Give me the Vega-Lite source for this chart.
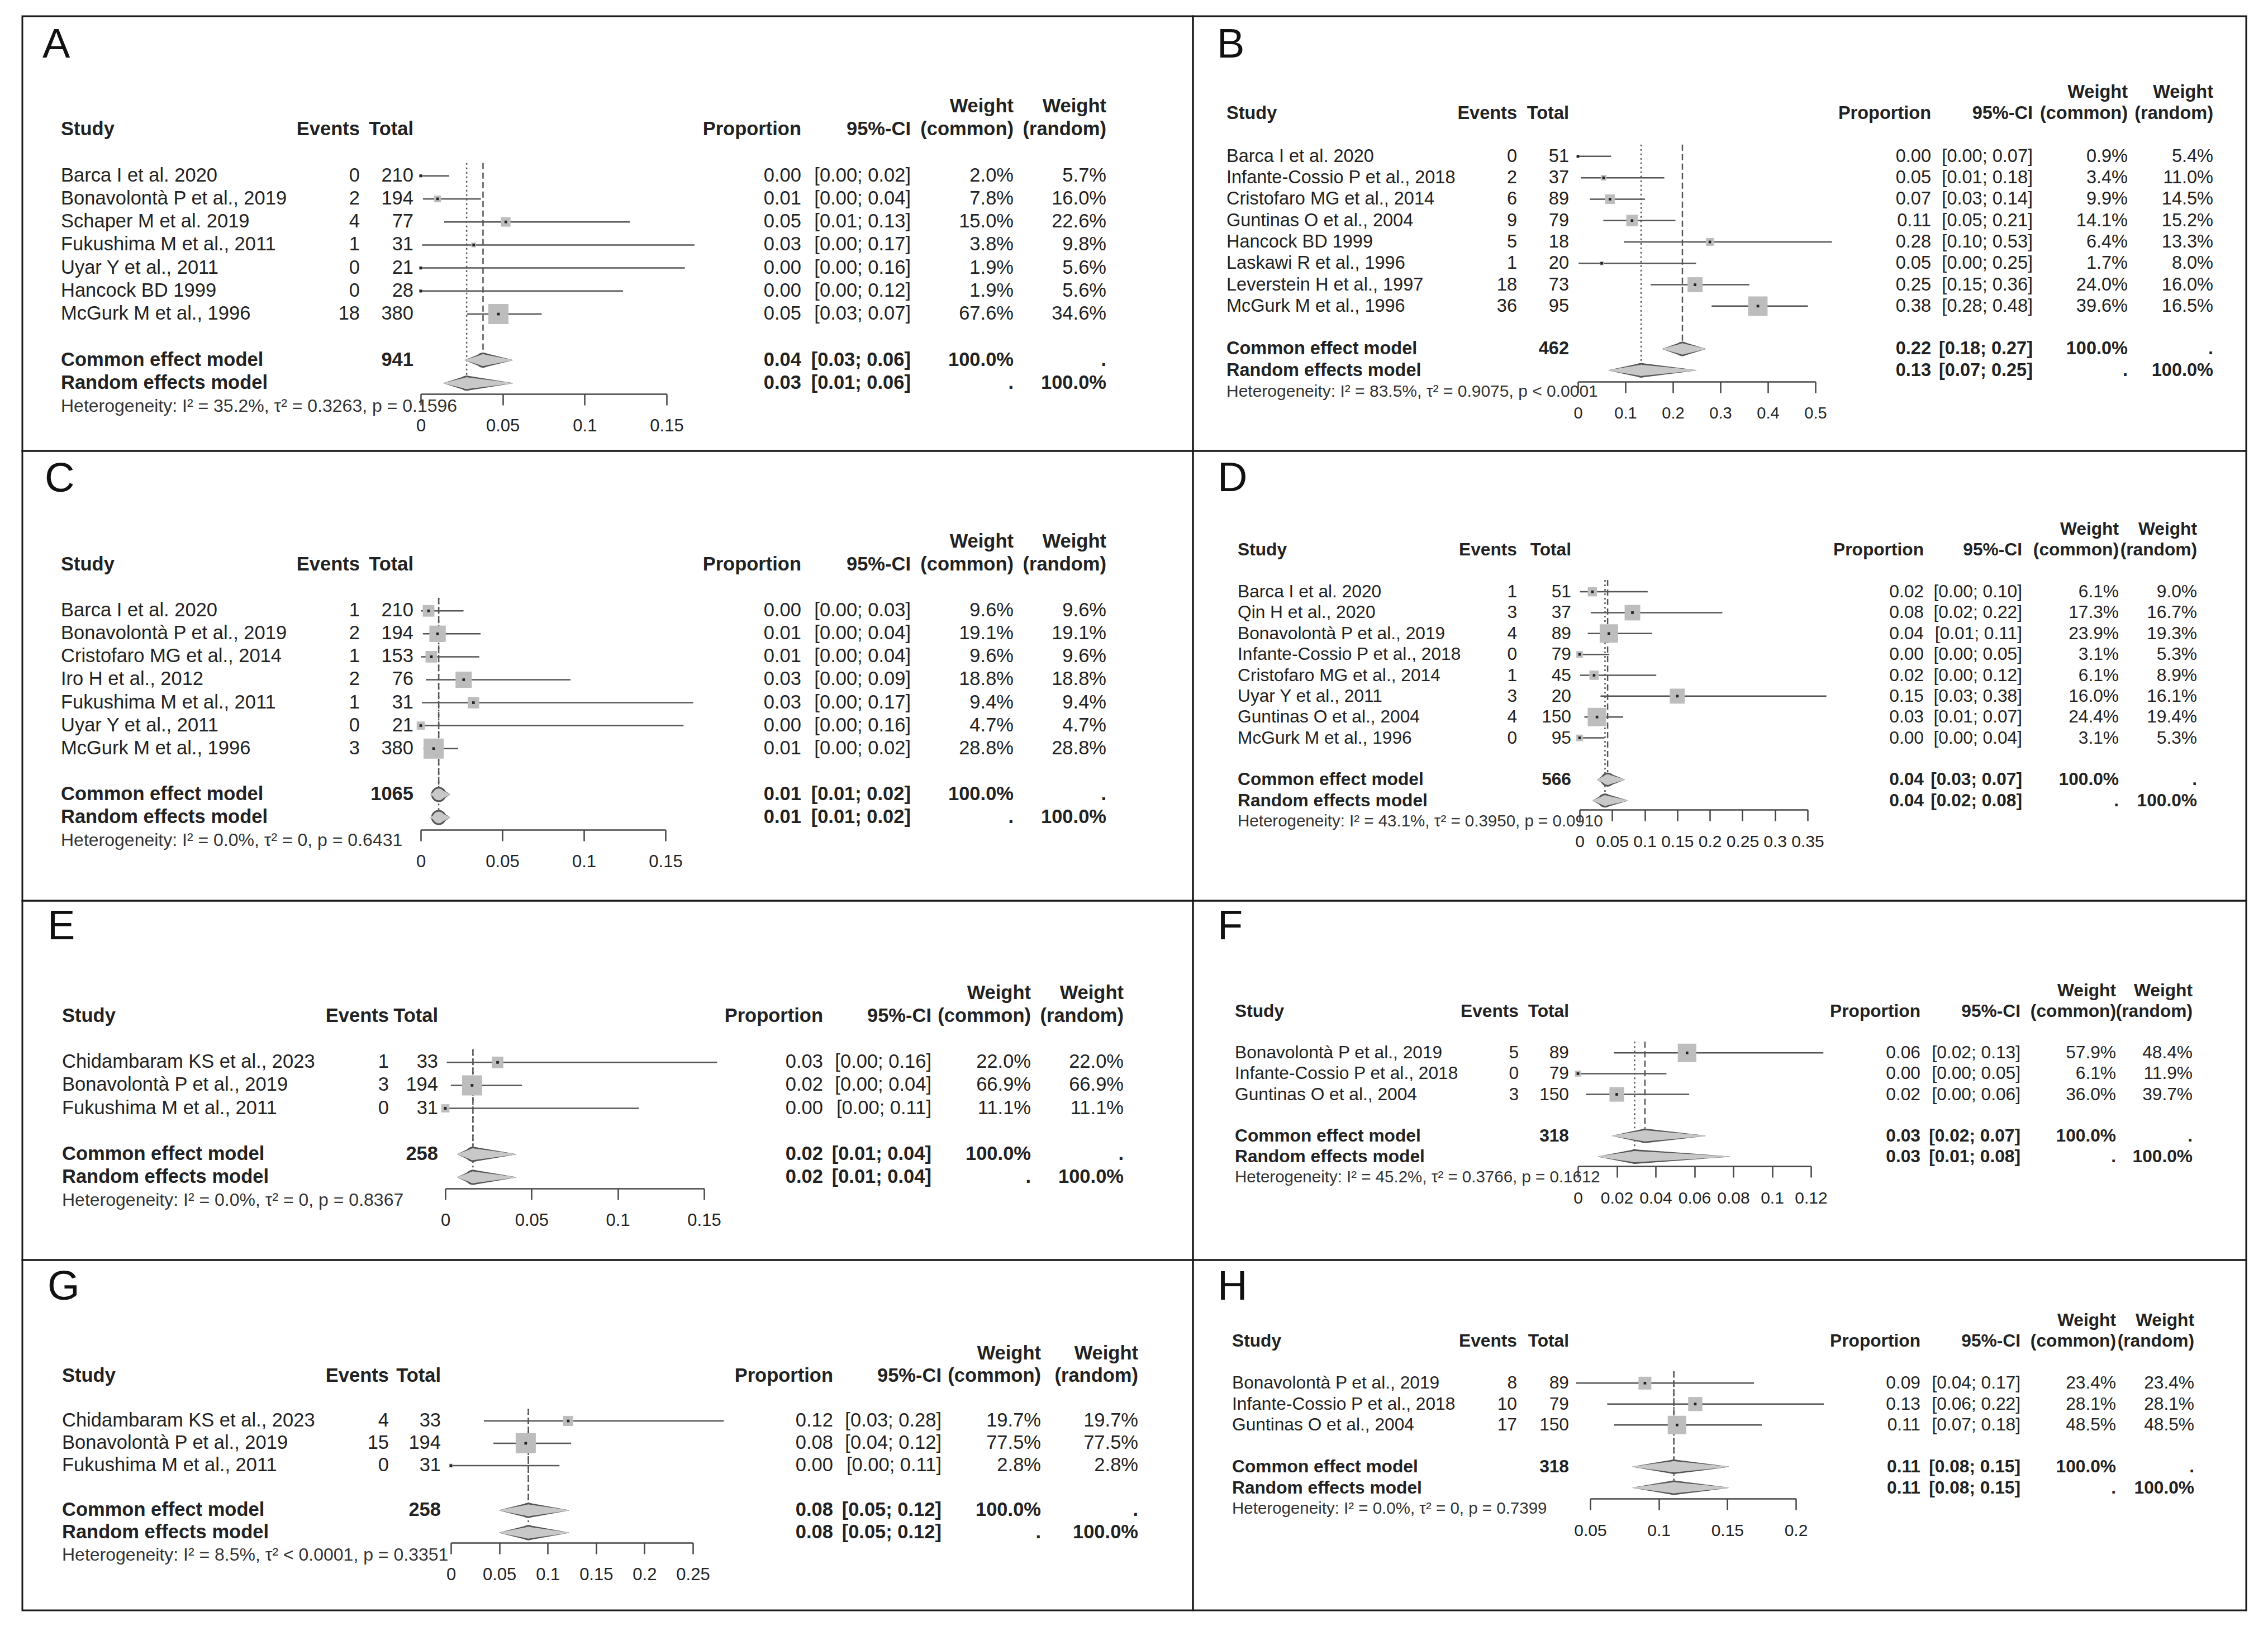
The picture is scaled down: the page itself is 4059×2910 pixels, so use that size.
{
"$schema": "https://vega.github.io/schema/vega-lite/v6.json",
"background": "white",
"padding": {"left": 38, "top": 27, "right": 0, "bottom": 0},
"columns": 2,
"spacing": 0,
"bounds": "flush",
"resolve": {"scale": {"x": "independent", "y": "independent", "size": "independent"}},
"config": {
 "font": "Liberation Sans",
 "view": {"stroke": "#1a1a1a", "strokeWidth": 3},
 "text": {"fontSize": 34.5, "baseline": "middle", "align": "right", "color": "#222"},
 "axisX": {"labelFontSize": 31, "labelColor": "#222", "tickSize": 20, "tickWidth": 2.5, "tickColor": "#444", "domainWidth": 2.5, "domainColor": "#444", "labelPadding": 22, "grid": false, "format": "~g", "labelOverlap": false, "labelFlush": false}
},
"datasets": {"rows": [
{"p":"A","t":"s","study":"Barca I et al. 2020","ev":0,"n":210,"prop":0,"lo":0,"hi":0.0174,"ci":"[0.00; 0.02]","wc":0.020,"wr":0.057},
{"p":"A","t":"s","study":"Bonavolontà P et al., 2019","ev":2,"n":194,"prop":0.0103,"lo":0.0013,"hi":0.0367,"ci":"[0.00; 0.04]","wc":0.078,"wr":0.160},
{"p":"A","t":"s","study":"Schaper M et al. 2019","ev":4,"n":77,"prop":0.0519,"lo":0.0143,"hi":0.1277,"ci":"[0.01; 0.13]","wc":0.150,"wr":0.226},
{"p":"A","t":"s","study":"Fukushima M et al., 2011","ev":1,"n":31,"prop":0.0323,"lo":0.0008,"hi":0.1670,"ci":"[0.00; 0.17]","wc":0.038,"wr":0.098},
{"p":"A","t":"s","study":"Uyar Y et al., 2011","ev":0,"n":21,"prop":0,"lo":0,"hi":0.1611,"ci":"[0.00; 0.16]","wc":0.019,"wr":0.056},
{"p":"A","t":"s","study":"Hancock BD 1999","ev":0,"n":28,"prop":0,"lo":0,"hi":0.1234,"ci":"[0.00; 0.12]","wc":0.019,"wr":0.056},
{"p":"A","t":"s","study":"McGurk M et al., 1996","ev":18,"n":380,"prop":0.0474,"lo":0.0283,"hi":0.0738,"ci":"[0.03; 0.07]","wc":0.676,"wr":0.346},
{"p":"A","t":"c","study":"Common effect model","n":941,"prop":0.038,"lo":0.027,"hi":0.056,"ci":"[0.03; 0.06]","wc":1,"wr":null},
{"p":"A","t":"r","study":"Random effects model","prop":0.028,"lo":0.014,"hi":0.056,"ci":"[0.01; 0.06]","wc":null,"wr":1,"het":"Heterogeneity: I² = 35.2%, τ² = 0.3263, p = 0.1596"},

{"p":"B","t":"s","study":"Barca I et al. 2020","ev":0,"n":51,"prop":0,"lo":0,"hi":0.0698,"ci":"[0.00; 0.07]","wc":0.009,"wr":0.054},
{"p":"B","t":"s","study":"Infante-Cossio P et al., 2018","ev":2,"n":37,"prop":0.0541,"lo":0.0066,"hi":0.1819,"ci":"[0.01; 0.18]","wc":0.034,"wr":0.110},
{"p":"B","t":"s","study":"Cristofaro MG et al., 2014","ev":6,"n":89,"prop":0.0674,"lo":0.0251,"hi":0.1411,"ci":"[0.03; 0.14]","wc":0.099,"wr":0.145},
{"p":"B","t":"s","study":"Guntinas O et al., 2004","ev":9,"n":79,"prop":0.1139,"lo":0.0534,"hi":0.2052,"ci":"[0.05; 0.21]","wc":0.141,"wr":0.152},
{"p":"B","t":"s","study":"Hancock BD 1999","ev":5,"n":18,"prop":0.2778,"lo":0.0969,"hi":0.5348,"ci":"[0.10; 0.53]","wc":0.064,"wr":0.133},
{"p":"B","t":"s","study":"Laskawi R et al., 1996","ev":1,"n":20,"prop":0.05,"lo":0.0013,"hi":0.2487,"ci":"[0.00; 0.25]","wc":0.017,"wr":0.080},
{"p":"B","t":"s","study":"Leverstein H et al., 1997","ev":18,"n":73,"prop":0.2466,"lo":0.1530,"hi":0.3609,"ci":"[0.15; 0.36]","wc":0.240,"wr":0.160},
{"p":"B","t":"s","study":"McGurk M et al., 1996","ev":36,"n":95,"prop":0.3789,"lo":0.2815,"hi":0.4843,"ci":"[0.28; 0.48]","wc":0.396,"wr":0.165},
{"p":"B","t":"c","study":"Common effect model","n":462,"prop":0.220,"lo":0.178,"hi":0.269,"ci":"[0.18; 0.27]","wc":1,"wr":null},
{"p":"B","t":"r","study":"Random effects model","prop":0.133,"lo":0.065,"hi":0.249,"ci":"[0.07; 0.25]","wc":null,"wr":1,"het":"Heterogeneity: I² = 83.5%, τ² = 0.9075, p < 0.0001"},

{"p":"C","t":"s","study":"Barca I et al. 2020","ev":1,"n":210,"prop":0.0048,"lo":0.0001,"hi":0.0262,"ci":"[0.00; 0.03]","wc":0.096,"wr":0.096},
{"p":"C","t":"s","study":"Bonavolontà P et al., 2019","ev":2,"n":194,"prop":0.0103,"lo":0.0013,"hi":0.0367,"ci":"[0.00; 0.04]","wc":0.191,"wr":0.191},
{"p":"C","t":"s","study":"Cristofaro MG et al., 2014","ev":1,"n":153,"prop":0.0065,"lo":0.0002,"hi":0.0359,"ci":"[0.00; 0.04]","wc":0.096,"wr":0.096},
{"p":"C","t":"s","study":"Iro H et al., 2012","ev":2,"n":76,"prop":0.0263,"lo":0.0032,"hi":0.0918,"ci":"[0.00; 0.09]","wc":0.188,"wr":0.188},
{"p":"C","t":"s","study":"Fukushima M et al., 2011","ev":1,"n":31,"prop":0.0323,"lo":0.0008,"hi":0.1670,"ci":"[0.00; 0.17]","wc":0.094,"wr":0.094},
{"p":"C","t":"s","study":"Uyar Y et al., 2011","ev":0,"n":21,"prop":0,"lo":0,"hi":0.1611,"ci":"[0.00; 0.16]","wc":0.047,"wr":0.047},
{"p":"C","t":"s","study":"McGurk M et al., 1996","ev":3,"n":380,"prop":0.0079,"lo":0.0016,"hi":0.0229,"ci":"[0.00; 0.02]","wc":0.288,"wr":0.288},
{"p":"C","t":"c","study":"Common effect model","n":1065,"prop":0.011,"lo":0.006,"hi":0.018,"ci":"[0.01; 0.02]","wc":1,"wr":null},
{"p":"C","t":"r","study":"Random effects model","prop":0.011,"lo":0.006,"hi":0.018,"ci":"[0.01; 0.02]","wc":null,"wr":1,"het":"Heterogeneity: I² = 0.0%, τ² = 0, p = 0.6431"},

{"p":"D","t":"s","study":"Barca I et al. 2020","ev":1,"n":51,"prop":0.0196,"lo":0.0005,"hi":0.1045,"ci":"[0.00; 0.10]","wc":0.061,"wr":0.090},
{"p":"D","t":"s","study":"Qin H et al., 2020","ev":3,"n":37,"prop":0.0811,"lo":0.0170,"hi":0.2191,"ci":"[0.02; 0.22]","wc":0.173,"wr":0.167},
{"p":"D","t":"s","study":"Bonavolontà P et al., 2019","ev":4,"n":89,"prop":0.0449,"lo":0.0124,"hi":0.1111,"ci":"[0.01; 0.11]","wc":0.239,"wr":0.193},
{"p":"D","t":"s","study":"Infante-Cossio P et al., 2018","ev":0,"n":79,"prop":0,"lo":0,"hi":0.0456,"ci":"[0.00; 0.05]","wc":0.031,"wr":0.053},
{"p":"D","t":"s","study":"Cristofaro MG et al., 2014","ev":1,"n":45,"prop":0.0222,"lo":0.0006,"hi":0.1177,"ci":"[0.00; 0.12]","wc":0.061,"wr":0.089},
{"p":"D","t":"s","study":"Uyar Y et al., 2011","ev":3,"n":20,"prop":0.15,"lo":0.0321,"hi":0.3789,"ci":"[0.03; 0.38]","wc":0.160,"wr":0.161},
{"p":"D","t":"s","study":"Guntinas O et al., 2004","ev":4,"n":150,"prop":0.0267,"lo":0.0073,"hi":0.0669,"ci":"[0.01; 0.07]","wc":0.244,"wr":0.194},
{"p":"D","t":"s","study":"McGurk M et al., 1996","ev":0,"n":95,"prop":0,"lo":0,"hi":0.0381,"ci":"[0.00; 0.04]","wc":0.031,"wr":0.053},
{"p":"D","t":"c","study":"Common effect model","n":566,"prop":0.043,"lo":0.027,"hi":0.069,"ci":"[0.03; 0.07]","wc":1,"wr":null},
{"p":"D","t":"r","study":"Random effects model","prop":0.039,"lo":0.020,"hi":0.074,"ci":"[0.02; 0.08]","wc":null,"wr":1,"het":"Heterogeneity: I² = 43.1%, τ² = 0.3950, p = 0.0910"},

{"p":"E","t":"s","study":"Chidambaram KS et al., 2023","ev":1,"n":33,"prop":0.0303,"lo":0.0008,"hi":0.1576,"ci":"[0.00; 0.16]","wc":0.220,"wr":0.220},
{"p":"E","t":"s","study":"Bonavolontà P et al., 2019","ev":3,"n":194,"prop":0.0155,"lo":0.0032,"hi":0.0445,"ci":"[0.00; 0.04]","wc":0.669,"wr":0.669},
{"p":"E","t":"s","study":"Fukushima M et al., 2011","ev":0,"n":31,"prop":0,"lo":0,"hi":0.1122,"ci":"[0.00; 0.11]","wc":0.111,"wr":0.111},
{"p":"E","t":"c","study":"Common effect model","n":258,"prop":0.016,"lo":0.007,"hi":0.041,"ci":"[0.01; 0.04]","wc":1,"wr":null},
{"p":"E","t":"r","study":"Random effects model","prop":0.016,"lo":0.007,"hi":0.041,"ci":"[0.01; 0.04]","wc":null,"wr":1,"het":"Heterogeneity: I² = 0.0%, τ² = 0, p = 0.8367"},

{"p":"F","t":"s","study":"Bonavolontà P et al., 2019","ev":5,"n":89,"prop":0.0562,"lo":0.0185,"hi":0.1264,"ci":"[0.02; 0.13]","wc":0.579,"wr":0.484},
{"p":"F","t":"s","study":"Infante-Cossio P et al., 2018","ev":0,"n":79,"prop":0,"lo":0,"hi":0.0456,"ci":"[0.00; 0.05]","wc":0.061,"wr":0.119},
{"p":"F","t":"s","study":"Guntinas O et al., 2004","ev":3,"n":150,"prop":0.02,"lo":0.0041,"hi":0.0573,"ci":"[0.00; 0.06]","wc":0.360,"wr":0.397},
{"p":"F","t":"c","study":"Common effect model","n":318,"prop":0.0345,"lo":0.0177,"hi":0.0656,"ci":"[0.02; 0.07]","wc":1,"wr":null},
{"p":"F","t":"r","study":"Random effects model","prop":0.0292,"lo":0.0105,"hi":0.078,"ci":"[0.01; 0.08]","wc":null,"wr":1,"het":"Heterogeneity: I² = 45.2%, τ² = 0.3766, p = 0.1612"},

{"p":"G","t":"s","study":"Chidambaram KS et al., 2023","ev":4,"n":33,"prop":0.1212,"lo":0.0340,"hi":0.2820,"ci":"[0.03; 0.28]","wc":0.197,"wr":0.197},
{"p":"G","t":"s","study":"Bonavolontà P et al., 2019","ev":15,"n":194,"prop":0.0773,"lo":0.0439,"hi":0.1242,"ci":"[0.04; 0.12]","wc":0.775,"wr":0.775},
{"p":"G","t":"s","study":"Fukushima M et al., 2011","ev":0,"n":31,"prop":0,"lo":0,"hi":0.1122,"ci":"[0.00; 0.11]","wc":0.028,"wr":0.028},
{"p":"G","t":"c","study":"Common effect model","n":258,"prop":0.080,"lo":0.050,"hi":0.122,"ci":"[0.05; 0.12]","wc":1,"wr":null},
{"p":"G","t":"r","study":"Random effects model","prop":0.080,"lo":0.050,"hi":0.122,"ci":"[0.05; 0.12]","wc":null,"wr":1,"het":"Heterogeneity: I² = 8.5%, τ² < 0.0001, p = 0.3351"},

{"p":"H","t":"s","study":"Bonavolontà P et al., 2019","ev":8,"n":89,"prop":0.0899,"lo":0.0396,"hi":0.1695,"ci":"[0.04; 0.17]","wc":0.234,"wr":0.234},
{"p":"H","t":"s","study":"Infante-Cossio P et al., 2018","ev":10,"n":79,"prop":0.1266,"lo":0.0624,"hi":0.2204,"ci":"[0.06; 0.22]","wc":0.281,"wr":0.281},
{"p":"H","t":"s","study":"Guntinas O et al., 2004","ev":17,"n":150,"prop":0.1133,"lo":0.0674,"hi":0.1752,"ci":"[0.07; 0.18]","wc":0.485,"wr":0.485},
{"p":"H","t":"c","study":"Common effect model","n":318,"prop":0.111,"lo":0.081,"hi":0.151,"ci":"[0.08; 0.15]","wc":1,"wr":null},
{"p":"H","t":"r","study":"Random effects model","prop":0.111,"lo":0.081,"hi":0.151,"ci":"[0.08; 0.15]","wc":null,"wr":1,"het":"Heterogeneity: I² = 0.0%, τ² = 0, p = 0.7399"}
]},
"concat": [
{
"width": 2095, "height": 778,
"data": {"name": "rows"},
"transform": [{"filter": "datum.p == 'A'"}],
"encoding": {"y": {"field": "study", "type": "nominal", "axis": null, "scale": {"type": "point", "padding": 0, "range": [162, 698], "domain": ["hW","hS","g1","Barca I et al. 2020","Bonavolontà P et al., 2019","Schaper M et al. 2019","Fukushima M et al., 2011","Uyar Y et al., 2011","Hancock BD 1999","McGurk M et al., 1996","g2","Common effect model","Random effects model","het"]}}},
"resolve": {"scale": {"x": "independent", "size": "independent"}},
"layer": [
 {"layer": [
  {"mark": {"type": "text", "align": "left", "fontWeight": {"expr": "datum.t == 's' ? 'normal' : 'bold'"}}, "encoding": {"x": {"datum": 69, "type": "quantitative", "axis": null, "scale": {"domain": [0, 2095], "nice": false, "zero": false}}, "text": {"field": "study"}}},
  {"transform": [{"filter": "datum.t == 's'"}], "mark": {"type": "text"}, "encoding": {"x": {"datum": 604, "type": "quantitative", "axis": null}, "text": {"field": "ev", "type": "quantitative"}}},
  {"transform": [{"filter": "datum.n != null"}], "mark": {"type": "text", "fontWeight": {"expr": "datum.t == 's' ? 'normal' : 'bold'"}}, "encoding": {"x": {"datum": 700, "type": "quantitative", "axis": null}, "text": {"field": "n", "type": "quantitative"}}},
  {"mark": {"type": "text", "fontWeight": {"expr": "datum.t == 's' ? 'normal' : 'bold'"}}, "encoding": {"x": {"datum": 1394, "type": "quantitative", "axis": null}, "text": {"field": "prop", "type": "quantitative", "format": ".2f"}}},
  {"mark": {"type": "text", "fontWeight": {"expr": "datum.t == 's' ? 'normal' : 'bold'"}}, "encoding": {"x": {"datum": 1590, "type": "quantitative", "axis": null}, "text": {"field": "ci"}}},
  {"mark": {"type": "text", "fontWeight": {"expr": "datum.t == 's' ? 'normal' : 'bold'"}}, "encoding": {"x": {"datum": 1774, "type": "quantitative", "axis": null}, "text": {"condition": {"test": "datum.wc == null", "value": "."}, "field": "wc", "type": "quantitative", "format": ".1%"}}},
  {"mark": {"type": "text", "fontWeight": {"expr": "datum.t == 's' ? 'normal' : 'bold'"}}, "encoding": {"x": {"datum": 1940, "type": "quantitative", "axis": null}, "text": {"condition": {"test": "datum.wr == null", "value": "."}, "field": "wr", "type": "quantitative", "format": ".1%"}}},
  {"transform": [{"filter": "datum.t == 'r'"}], "mark": {"type": "text", "align": "left", "fontSize": 32, "color": "#333"}, "encoding": {"x": {"datum": 69, "type": "quantitative", "axis": null}, "y": {"datum": "het"}, "text": {"field": "het"}}},
  {"data": {"values": [{}]}, "layer": [
   {"mark": {"type": "text", "align": "left", "fontSize": 74, "dy": -110, "color": "#111"}, "encoding": {"x": {"datum": 36, "type": "quantitative", "axis": null}, "y": {"datum": "hW"}, "text": {"value": "A"}}},
   {"mark": {"type": "text", "align": "left", "fontWeight": "bold"}, "encoding": {"x": {"datum": 69, "type": "quantitative", "axis": null}, "y": {"datum": "hS"}, "text": {"value": "Study"}}},
   {"mark": {"type": "text", "fontWeight": "bold"}, "encoding": {"x": {"datum": 604, "type": "quantitative", "axis": null}, "y": {"datum": "hS"}, "text": {"value": "Events"}}},
   {"mark": {"type": "text", "fontWeight": "bold"}, "encoding": {"x": {"datum": 700, "type": "quantitative", "axis": null}, "y": {"datum": "hS"}, "text": {"value": "Total"}}},
   {"mark": {"type": "text", "fontWeight": "bold"}, "encoding": {"x": {"datum": 1394, "type": "quantitative", "axis": null}, "y": {"datum": "hS"}, "text": {"value": "Proportion"}}},
   {"mark": {"type": "text", "fontWeight": "bold"}, "encoding": {"x": {"datum": 1590, "type": "quantitative", "axis": null}, "y": {"datum": "hS"}, "text": {"value": "95%-CI"}}},
   {"mark": {"type": "text", "fontWeight": "bold"}, "encoding": {"x": {"datum": 1774, "type": "quantitative", "axis": null}, "y": {"datum": "hW"}, "text": {"value": "Weight"}}},
   {"mark": {"type": "text", "fontWeight": "bold"}, "encoding": {"x": {"datum": 1774, "type": "quantitative", "axis": null}, "y": {"datum": "hS"}, "text": {"value": "(common)"}}},
   {"mark": {"type": "text", "fontWeight": "bold"}, "encoding": {"x": {"datum": 1940, "type": "quantitative", "axis": null}, "y": {"datum": "hW"}, "text": {"value": "Weight"}}},
   {"mark": {"type": "text", "fontWeight": "bold"}, "encoding": {"x": {"datum": 1940, "type": "quantitative", "axis": null}, "y": {"datum": "hS"}, "text": {"value": "(random)"}}}
  ]}
 ]},
 {"resolve": {"scale": {"size": "independent"}}, "layer": [
  {"transform": [{"filter": "datum.t == 'c'"}], "mark": {"type": "rule", "color": "#555", "strokeWidth": 2.5, "strokeDash": [11, 6], "yOffset": -23, "y2Offset": -13}, "encoding": {"x": {"field": "prop", "type": "quantitative", "scale": {"domain": [0, 0.15], "range": [713, 1153], "nice": false, "zero": false}, "axis": {"values": [0, 0.05, 0.1, 0.15], "offset": -102, "title": null}}, "y": {"datum": "Barca I et al. 2020"}, "y2": {"datum": "Common effect model"}}},
  {"transform": [{"filter": "datum.t == 'r'"}], "mark": {"type": "rule", "color": "#555", "strokeWidth": 2.5, "strokeDash": [3, 5], "yOffset": -23, "y2Offset": -13}, "encoding": {"x": {"field": "prop", "type": "quantitative"}, "y": {"datum": "Barca I et al. 2020"}, "y2": {"datum": "Random effects model"}}},
  {"transform": [{"filter": "datum.t == 's'"}], "mark": {"type": "rule", "color": "#555", "strokeWidth": 2.5}, "encoding": {"x": {"field": "lo", "type": "quantitative"}, "x2": {"field": "hi"}}},
  {"transform": [{"filter": "datum.t == 's'"}], "mark": {"type": "point", "shape": "square", "filled": true, "color": "#bdbdbd", "opacity": 1}, "encoding": {"x": {"field": "prop", "type": "quantitative"}, "size": {"field": "wc", "type": "quantitative", "scale": {"domain": [0, 0.676], "range": [0, 1300]}, "legend": null}}},
  {"transform": [{"filter": "datum.t == 's'"}], "mark": {"type": "point", "shape": "square", "filled": true, "color": "#222", "size": 22, "opacity": 1}, "encoding": {"x": {"field": "prop", "type": "quantitative"}}},
  {"transform": [{"filter": "datum.t != 's'"}, {"fold": ["lo", "prop"], "as": ["k", "v"]}], "mark": {"type": "trail", "color": "#555"}, "encoding": {"x": {"field": "v", "type": "quantitative"}, "detail": {"field": "study", "type": "nominal"}, "order": {"field": "v", "type": "quantitative"}, "size": {"field": "k", "type": "ordinal", "scale": {"type": "point", "domain": ["lo", "prop"], "range": [0, 27], "padding": 0}, "legend": null}}},
  {"transform": [{"filter": "datum.t != 's'"}, {"fold": ["prop", "hi"], "as": ["k", "v"]}], "mark": {"type": "trail", "color": "#555"}, "encoding": {"x": {"field": "v", "type": "quantitative"}, "detail": {"field": "study", "type": "nominal"}, "order": {"field": "v", "type": "quantitative"}, "size": {"field": "k", "type": "ordinal", "scale": {"type": "point", "domain": ["hi", "prop"], "range": [0, 27], "padding": 0}, "legend": null}}},
  {"transform": [{"filter": "datum.t != 's'"}, {"fold": ["lo", "prop"], "as": ["k", "v"]}], "mark": {"type": "trail", "color": "#c8c8c8"}, "encoding": {"x": {"field": "v", "type": "quantitative"}, "detail": {"field": "study", "type": "nominal"}, "order": {"field": "v", "type": "quantitative"}, "size": {"field": "k", "type": "ordinal", "scale": {"type": "point", "domain": ["lo", "prop"], "range": [0, 21], "padding": 0}, "legend": null}}},
  {"transform": [{"filter": "datum.t != 's'"}, {"fold": ["prop", "hi"], "as": ["k", "v"]}], "mark": {"type": "trail", "color": "#c8c8c8"}, "encoding": {"x": {"field": "v", "type": "quantitative"}, "detail": {"field": "study", "type": "nominal"}, "order": {"field": "v", "type": "quantitative"}, "size": {"field": "k", "type": "ordinal", "scale": {"type": "point", "domain": ["hi", "prop"], "range": [0, 21], "padding": 0}, "legend": null}}}
 ]}
]
},
{
"width": 1885, "height": 778,
"data": {"name": "rows"},
"transform": [{"filter": "datum.p == 'B'"}],
"encoding": {"y": {"field": "study", "type": "nominal", "axis": null, "scale": {"type": "point", "padding": 0, "range": [136, 672], "domain": ["hW","hS","g1","Barca I et al. 2020","Infante-Cossio P et al., 2018","Cristofaro MG et al., 2014","Guntinas O et al., 2004","Hancock BD 1999","Laskawi R et al., 1996","Leverstein H et al., 1997","McGurk M et al., 1996","g2","Common effect model","Random effects model","het"]}}},
"resolve": {"scale": {"x": "independent", "size": "independent"}},
"layer": [
 {"layer": [
  {"mark": {"type": "text", "fontSize": 32.5, "align": "left", "fontWeight": {"expr": "datum.t == 's' ? 'normal' : 'bold'"}}, "encoding": {"x": {"datum": 60, "type": "quantitative", "axis": null, "scale": {"domain": [0, 1885], "nice": false, "zero": false}}, "text": {"field": "study"}}},
  {"transform": [{"filter": "datum.t == 's'"}], "mark": {"type": "text", "fontSize": 32.5}, "encoding": {"x": {"datum": 580, "type": "quantitative", "axis": null}, "text": {"field": "ev", "type": "quantitative"}}},
  {"transform": [{"filter": "datum.n != null"}], "mark": {"type": "text", "fontSize": 32.5, "fontWeight": {"expr": "datum.t == 's' ? 'normal' : 'bold'"}}, "encoding": {"x": {"datum": 673, "type": "quantitative", "axis": null}, "text": {"field": "n", "type": "quantitative"}}},
  {"mark": {"type": "text", "fontSize": 32.5, "fontWeight": {"expr": "datum.t == 's' ? 'normal' : 'bold'"}}, "encoding": {"x": {"datum": 1321, "type": "quantitative", "axis": null}, "text": {"field": "prop", "type": "quantitative", "format": ".2f"}}},
  {"mark": {"type": "text", "fontSize": 32.5, "fontWeight": {"expr": "datum.t == 's' ? 'normal' : 'bold'"}}, "encoding": {"x": {"datum": 1503, "type": "quantitative", "axis": null}, "text": {"field": "ci"}}},
  {"mark": {"type": "text", "fontSize": 32.5, "fontWeight": {"expr": "datum.t == 's' ? 'normal' : 'bold'"}}, "encoding": {"x": {"datum": 1673, "type": "quantitative", "axis": null}, "text": {"condition": {"test": "datum.wc == null", "value": "."}, "field": "wc", "type": "quantitative", "format": ".1%"}}},
  {"mark": {"type": "text", "fontSize": 32.5, "fontWeight": {"expr": "datum.t == 's' ? 'normal' : 'bold'"}}, "encoding": {"x": {"datum": 1826, "type": "quantitative", "axis": null}, "text": {"condition": {"test": "datum.wr == null", "value": "."}, "field": "wr", "type": "quantitative", "format": ".1%"}}},
  {"transform": [{"filter": "datum.t == 'r'"}], "mark": {"type": "text", "align": "left", "fontSize": 30, "color": "#333"}, "encoding": {"x": {"datum": 60, "type": "quantitative", "axis": null}, "y": {"datum": "het"}, "text": {"field": "het"}}},
  {"data": {"values": [{}]}, "layer": [
   {"mark": {"type": "text", "align": "left", "fontSize": 74, "dy": -84, "color": "#111"}, "encoding": {"x": {"datum": 43, "type": "quantitative", "axis": null}, "y": {"datum": "hW"}, "text": {"value": "B"}}},
   {"mark": {"type": "text", "fontSize": 32.5, "align": "left", "fontWeight": "bold"}, "encoding": {"x": {"datum": 60, "type": "quantitative", "axis": null}, "y": {"datum": "hS"}, "text": {"value": "Study"}}},
   {"mark": {"type": "text", "fontSize": 32.5, "fontWeight": "bold"}, "encoding": {"x": {"datum": 580, "type": "quantitative", "axis": null}, "y": {"datum": "hS"}, "text": {"value": "Events"}}},
   {"mark": {"type": "text", "fontSize": 32.5, "fontWeight": "bold"}, "encoding": {"x": {"datum": 673, "type": "quantitative", "axis": null}, "y": {"datum": "hS"}, "text": {"value": "Total"}}},
   {"mark": {"type": "text", "fontSize": 32.5, "fontWeight": "bold"}, "encoding": {"x": {"datum": 1321, "type": "quantitative", "axis": null}, "y": {"datum": "hS"}, "text": {"value": "Proportion"}}},
   {"mark": {"type": "text", "fontSize": 32.5, "fontWeight": "bold"}, "encoding": {"x": {"datum": 1503, "type": "quantitative", "axis": null}, "y": {"datum": "hS"}, "text": {"value": "95%-CI"}}},
   {"mark": {"type": "text", "fontSize": 32.5, "fontWeight": "bold"}, "encoding": {"x": {"datum": 1673, "type": "quantitative", "axis": null}, "y": {"datum": "hW"}, "text": {"value": "Weight"}}},
   {"mark": {"type": "text", "fontSize": 32.5, "fontWeight": "bold"}, "encoding": {"x": {"datum": 1673, "type": "quantitative", "axis": null}, "y": {"datum": "hS"}, "text": {"value": "(common)"}}},
   {"mark": {"type": "text", "fontSize": 32.5, "fontWeight": "bold"}, "encoding": {"x": {"datum": 1826, "type": "quantitative", "axis": null}, "y": {"datum": "hW"}, "text": {"value": "Weight"}}},
   {"mark": {"type": "text", "fontSize": 32.5, "fontWeight": "bold"}, "encoding": {"x": {"datum": 1826, "type": "quantitative", "axis": null}, "y": {"datum": "hS"}, "text": {"value": "(random)"}}}
  ]}
 ]},
 {"resolve": {"scale": {"size": "independent"}}, "layer": [
  {"transform": [{"filter": "datum.t == 'c'"}], "mark": {"type": "rule", "color": "#555", "strokeWidth": 2.5, "strokeDash": [11, 6], "yOffset": -21, "y2Offset": -13}, "encoding": {"x": {"field": "prop", "type": "quantitative", "scale": {"domain": [0, 0.5], "range": [689, 1114], "nice": false, "zero": false}, "axis": {"values": [0, 0.1, 0.2, 0.3, 0.4, 0.5], "offset": -124, "title": null, "labelFontSize": 29}}, "y": {"datum": "Barca I et al. 2020"}, "y2": {"datum": "Common effect model"}}},
  {"transform": [{"filter": "datum.t == 'r'"}], "mark": {"type": "rule", "color": "#555", "strokeWidth": 2.5, "strokeDash": [3, 5], "yOffset": -21, "y2Offset": -13}, "encoding": {"x": {"field": "prop", "type": "quantitative"}, "y": {"datum": "Barca I et al. 2020"}, "y2": {"datum": "Random effects model"}}},
  {"transform": [{"filter": "datum.t == 's'"}], "mark": {"type": "rule", "color": "#555", "strokeWidth": 2.5}, "encoding": {"x": {"field": "lo", "type": "quantitative"}, "x2": {"field": "hi"}}},
  {"transform": [{"filter": "datum.t == 's'"}], "mark": {"type": "point", "shape": "square", "filled": true, "color": "#bdbdbd", "opacity": 1}, "encoding": {"x": {"field": "prop", "type": "quantitative"}, "size": {"field": "wc", "type": "quantitative", "scale": {"domain": [0, 0.396], "range": [0, 1200]}, "legend": null}}},
  {"transform": [{"filter": "datum.t == 's'"}], "mark": {"type": "point", "shape": "square", "filled": true, "color": "#222", "size": 22, "opacity": 1}, "encoding": {"x": {"field": "prop", "type": "quantitative"}}},
  {"transform": [{"filter": "datum.t != 's'"}, {"fold": ["lo", "prop"], "as": ["k", "v"]}], "mark": {"type": "trail", "color": "#555"}, "encoding": {"x": {"field": "v", "type": "quantitative"}, "detail": {"field": "study", "type": "nominal"}, "order": {"field": "v", "type": "quantitative"}, "size": {"field": "k", "type": "ordinal", "scale": {"type": "point", "domain": ["lo", "prop"], "range": [0, 26], "padding": 0}, "legend": null}}},
  {"transform": [{"filter": "datum.t != 's'"}, {"fold": ["prop", "hi"], "as": ["k", "v"]}], "mark": {"type": "trail", "color": "#555"}, "encoding": {"x": {"field": "v", "type": "quantitative"}, "detail": {"field": "study", "type": "nominal"}, "order": {"field": "v", "type": "quantitative"}, "size": {"field": "k", "type": "ordinal", "scale": {"type": "point", "domain": ["hi", "prop"], "range": [0, 26], "padding": 0}, "legend": null}}},
  {"transform": [{"filter": "datum.t != 's'"}, {"fold": ["lo", "prop"], "as": ["k", "v"]}], "mark": {"type": "trail", "color": "#c8c8c8"}, "encoding": {"x": {"field": "v", "type": "quantitative"}, "detail": {"field": "study", "type": "nominal"}, "order": {"field": "v", "type": "quantitative"}, "size": {"field": "k", "type": "ordinal", "scale": {"type": "point", "domain": ["lo", "prop"], "range": [0, 20], "padding": 0}, "legend": null}}},
  {"transform": [{"filter": "datum.t != 's'"}, {"fold": ["prop", "hi"], "as": ["k", "v"]}], "mark": {"type": "trail", "color": "#c8c8c8"}, "encoding": {"x": {"field": "v", "type": "quantitative"}, "detail": {"field": "study", "type": "nominal"}, "order": {"field": "v", "type": "quantitative"}, "size": {"field": "k", "type": "ordinal", "scale": {"type": "point", "domain": ["hi", "prop"], "range": [0, 20], "padding": 0}, "legend": null}}}
 ]}
]
},
{
"width": 2095, "height": 805,
"data": {"name": "rows"},
"transform": [{"filter": "datum.p == 'C'"}],
"encoding": {"y": {"field": "study", "type": "nominal", "axis": null, "scale": {"type": "point", "padding": 0, "range": [163, 697], "domain": ["hW","hS","g1","Barca I et al. 2020","Bonavolontà P et al., 2019","Cristofaro MG et al., 2014","Iro H et al., 2012","Fukushima M et al., 2011","Uyar Y et al., 2011","McGurk M et al., 1996","g2","Common effect model","Random effects model","het"]}}},
"resolve": {"scale": {"x": "independent", "size": "independent"}},
"layer": [
 {"layer": [
  {"mark": {"type": "text", "align": "left", "fontWeight": {"expr": "datum.t == 's' ? 'normal' : 'bold'"}}, "encoding": {"x": {"datum": 69, "type": "quantitative", "axis": null, "scale": {"domain": [0, 2095], "nice": false, "zero": false}}, "text": {"field": "study"}}},
  {"transform": [{"filter": "datum.t == 's'"}], "mark": {"type": "text"}, "encoding": {"x": {"datum": 604, "type": "quantitative", "axis": null}, "text": {"field": "ev", "type": "quantitative"}}},
  {"transform": [{"filter": "datum.n != null"}], "mark": {"type": "text", "fontWeight": {"expr": "datum.t == 's' ? 'normal' : 'bold'"}}, "encoding": {"x": {"datum": 700, "type": "quantitative", "axis": null}, "text": {"field": "n", "type": "quantitative"}}},
  {"mark": {"type": "text", "fontWeight": {"expr": "datum.t == 's' ? 'normal' : 'bold'"}}, "encoding": {"x": {"datum": 1394, "type": "quantitative", "axis": null}, "text": {"field": "prop", "type": "quantitative", "format": ".2f"}}},
  {"mark": {"type": "text", "fontWeight": {"expr": "datum.t == 's' ? 'normal' : 'bold'"}}, "encoding": {"x": {"datum": 1590, "type": "quantitative", "axis": null}, "text": {"field": "ci"}}},
  {"mark": {"type": "text", "fontWeight": {"expr": "datum.t == 's' ? 'normal' : 'bold'"}}, "encoding": {"x": {"datum": 1774, "type": "quantitative", "axis": null}, "text": {"condition": {"test": "datum.wc == null", "value": "."}, "field": "wc", "type": "quantitative", "format": ".1%"}}},
  {"mark": {"type": "text", "fontWeight": {"expr": "datum.t == 's' ? 'normal' : 'bold'"}}, "encoding": {"x": {"datum": 1940, "type": "quantitative", "axis": null}, "text": {"condition": {"test": "datum.wr == null", "value": "."}, "field": "wr", "type": "quantitative", "format": ".1%"}}},
  {"transform": [{"filter": "datum.t == 'r'"}], "mark": {"type": "text", "align": "left", "fontSize": 32, "color": "#333"}, "encoding": {"x": {"datum": 69, "type": "quantitative", "axis": null}, "y": {"datum": "het"}, "text": {"field": "het"}}},
  {"data": {"values": [{}]}, "layer": [
   {"mark": {"type": "text", "align": "left", "fontSize": 74, "dy": -112, "color": "#111"}, "encoding": {"x": {"datum": 40, "type": "quantitative", "axis": null}, "y": {"datum": "hW"}, "text": {"value": "C"}}},
   {"mark": {"type": "text", "align": "left", "fontWeight": "bold"}, "encoding": {"x": {"datum": 69, "type": "quantitative", "axis": null}, "y": {"datum": "hS"}, "text": {"value": "Study"}}},
   {"mark": {"type": "text", "fontWeight": "bold"}, "encoding": {"x": {"datum": 604, "type": "quantitative", "axis": null}, "y": {"datum": "hS"}, "text": {"value": "Events"}}},
   {"mark": {"type": "text", "fontWeight": "bold"}, "encoding": {"x": {"datum": 700, "type": "quantitative", "axis": null}, "y": {"datum": "hS"}, "text": {"value": "Total"}}},
   {"mark": {"type": "text", "fontWeight": "bold"}, "encoding": {"x": {"datum": 1394, "type": "quantitative", "axis": null}, "y": {"datum": "hS"}, "text": {"value": "Proportion"}}},
   {"mark": {"type": "text", "fontWeight": "bold"}, "encoding": {"x": {"datum": 1590, "type": "quantitative", "axis": null}, "y": {"datum": "hS"}, "text": {"value": "95%-CI"}}},
   {"mark": {"type": "text", "fontWeight": "bold"}, "encoding": {"x": {"datum": 1774, "type": "quantitative", "axis": null}, "y": {"datum": "hW"}, "text": {"value": "Weight"}}},
   {"mark": {"type": "text", "fontWeight": "bold"}, "encoding": {"x": {"datum": 1774, "type": "quantitative", "axis": null}, "y": {"datum": "hS"}, "text": {"value": "(common)"}}},
   {"mark": {"type": "text", "fontWeight": "bold"}, "encoding": {"x": {"datum": 1940, "type": "quantitative", "axis": null}, "y": {"datum": "hW"}, "text": {"value": "Weight"}}},
   {"mark": {"type": "text", "fontWeight": "bold"}, "encoding": {"x": {"datum": 1940, "type": "quantitative", "axis": null}, "y": {"datum": "hS"}, "text": {"value": "(random)"}}}
  ]}
 ]},
 {"resolve": {"scale": {"size": "independent"}}, "layer": [
  {"transform": [{"filter": "datum.t == 'c'"}], "mark": {"type": "rule", "color": "#555", "strokeWidth": 2.5, "strokeDash": [11, 6], "yOffset": -23, "y2Offset": -13}, "encoding": {"x": {"field": "prop", "type": "quantitative", "scale": {"domain": [0, 0.15], "range": [713, 1151], "nice": false, "zero": false}, "axis": {"values": [0, 0.05, 0.1, 0.15], "offset": -127, "title": null}}, "y": {"datum": "Barca I et al. 2020"}, "y2": {"datum": "Common effect model"}}},
  {"transform": [{"filter": "datum.t == 'r'"}], "mark": {"type": "rule", "color": "#555", "strokeWidth": 2.5, "strokeDash": [3, 5], "yOffset": -23, "y2Offset": -13}, "encoding": {"x": {"field": "prop", "type": "quantitative"}, "y": {"datum": "Barca I et al. 2020"}, "y2": {"datum": "Random effects model"}}},
  {"transform": [{"filter": "datum.t == 's'"}], "mark": {"type": "rule", "color": "#555", "strokeWidth": 2.5}, "encoding": {"x": {"field": "lo", "type": "quantitative"}, "x2": {"field": "hi"}}},
  {"transform": [{"filter": "datum.t == 's'"}], "mark": {"type": "point", "shape": "square", "filled": true, "color": "#bdbdbd", "opacity": 1}, "encoding": {"x": {"field": "prop", "type": "quantitative"}, "size": {"field": "wc", "type": "quantitative", "scale": {"domain": [0, 0.288], "range": [0, 1300]}, "legend": null}}},
  {"transform": [{"filter": "datum.t == 's'"}], "mark": {"type": "point", "shape": "square", "filled": true, "color": "#222", "size": 22, "opacity": 1}, "encoding": {"x": {"field": "prop", "type": "quantitative"}}},
  {"transform": [{"filter": "datum.t != 's'"}, {"fold": ["lo", "prop"], "as": ["k", "v"]}], "mark": {"type": "trail", "color": "#555"}, "encoding": {"x": {"field": "v", "type": "quantitative"}, "detail": {"field": "study", "type": "nominal"}, "order": {"field": "v", "type": "quantitative"}, "size": {"field": "k", "type": "ordinal", "scale": {"type": "point", "domain": ["lo", "prop"], "range": [0, 27], "padding": 0}, "legend": null}}},
  {"transform": [{"filter": "datum.t != 's'"}, {"fold": ["prop", "hi"], "as": ["k", "v"]}], "mark": {"type": "trail", "color": "#555"}, "encoding": {"x": {"field": "v", "type": "quantitative"}, "detail": {"field": "study", "type": "nominal"}, "order": {"field": "v", "type": "quantitative"}, "size": {"field": "k", "type": "ordinal", "scale": {"type": "point", "domain": ["hi", "prop"], "range": [0, 27], "padding": 0}, "legend": null}}},
  {"transform": [{"filter": "datum.t != 's'"}, {"fold": ["lo", "prop"], "as": ["k", "v"]}], "mark": {"type": "trail", "color": "#c8c8c8"}, "encoding": {"x": {"field": "v", "type": "quantitative"}, "detail": {"field": "study", "type": "nominal"}, "order": {"field": "v", "type": "quantitative"}, "size": {"field": "k", "type": "ordinal", "scale": {"type": "point", "domain": ["lo", "prop"], "range": [0, 21], "padding": 0}, "legend": null}}},
  {"transform": [{"filter": "datum.t != 's'"}, {"fold": ["prop", "hi"], "as": ["k", "v"]}], "mark": {"type": "trail", "color": "#c8c8c8"}, "encoding": {"x": {"field": "v", "type": "quantitative"}, "detail": {"field": "study", "type": "nominal"}, "order": {"field": "v", "type": "quantitative"}, "size": {"field": "k", "type": "ordinal", "scale": {"type": "point", "domain": ["hi", "prop"], "range": [0, 21], "padding": 0}, "legend": null}}}
 ]}
]
},
{
"width": 1885, "height": 805,
"data": {"name": "rows"},
"transform": [{"filter": "datum.p == 'D'"}],
"encoding": {"y": {"field": "study", "type": "nominal", "axis": null, "scale": {"type": "point", "padding": 0, "range": [140, 663], "domain": ["hW","hS","g1","Barca I et al. 2020","Qin H et al., 2020","Bonavolontà P et al., 2019","Infante-Cossio P et al., 2018","Cristofaro MG et al., 2014","Uyar Y et al., 2011","Guntinas O et al., 2004","McGurk M et al., 1996","g2","Common effect model","Random effects model","het"]}}},
"resolve": {"scale": {"x": "independent", "size": "independent"}},
"layer": [
 {"layer": [
  {"mark": {"type": "text", "fontSize": 31.7, "align": "left", "fontWeight": {"expr": "datum.t == 's' ? 'normal' : 'bold'"}}, "encoding": {"x": {"datum": 80, "type": "quantitative", "axis": null, "scale": {"domain": [0, 1885], "nice": false, "zero": false}}, "text": {"field": "study"}}},
  {"transform": [{"filter": "datum.t == 's'"}], "mark": {"type": "text", "fontSize": 31.7}, "encoding": {"x": {"datum": 580, "type": "quantitative", "axis": null}, "text": {"field": "ev", "type": "quantitative"}}},
  {"transform": [{"filter": "datum.n != null"}], "mark": {"type": "text", "fontSize": 31.7, "fontWeight": {"expr": "datum.t == 's' ? 'normal' : 'bold'"}}, "encoding": {"x": {"datum": 677, "type": "quantitative", "axis": null}, "text": {"field": "n", "type": "quantitative"}}},
  {"mark": {"type": "text", "fontSize": 31.7, "fontWeight": {"expr": "datum.t == 's' ? 'normal' : 'bold'"}}, "encoding": {"x": {"datum": 1308, "type": "quantitative", "axis": null}, "text": {"field": "prop", "type": "quantitative", "format": ".2f"}}},
  {"mark": {"type": "text", "fontSize": 31.7, "fontWeight": {"expr": "datum.t == 's' ? 'normal' : 'bold'"}}, "encoding": {"x": {"datum": 1484, "type": "quantitative", "axis": null}, "text": {"field": "ci"}}},
  {"mark": {"type": "text", "fontSize": 31.7, "fontWeight": {"expr": "datum.t == 's' ? 'normal' : 'bold'"}}, "encoding": {"x": {"datum": 1657, "type": "quantitative", "axis": null}, "text": {"condition": {"test": "datum.wc == null", "value": "."}, "field": "wc", "type": "quantitative", "format": ".1%"}}},
  {"mark": {"type": "text", "fontSize": 31.7, "fontWeight": {"expr": "datum.t == 's' ? 'normal' : 'bold'"}}, "encoding": {"x": {"datum": 1797, "type": "quantitative", "axis": null}, "text": {"condition": {"test": "datum.wr == null", "value": "."}, "field": "wr", "type": "quantitative", "format": ".1%"}}},
  {"transform": [{"filter": "datum.t == 'r'"}], "mark": {"type": "text", "align": "left", "fontSize": 29.5, "color": "#333"}, "encoding": {"x": {"datum": 80, "type": "quantitative", "axis": null}, "y": {"datum": "het"}, "text": {"field": "het"}}},
  {"data": {"values": [{}]}, "layer": [
   {"mark": {"type": "text", "align": "left", "fontSize": 74, "dy": -90, "color": "#111"}, "encoding": {"x": {"datum": 44, "type": "quantitative", "axis": null}, "y": {"datum": "hW"}, "text": {"value": "D"}}},
   {"mark": {"type": "text", "fontSize": 31.7, "align": "left", "fontWeight": "bold"}, "encoding": {"x": {"datum": 80, "type": "quantitative", "axis": null}, "y": {"datum": "hS"}, "text": {"value": "Study"}}},
   {"mark": {"type": "text", "fontSize": 31.7, "fontWeight": "bold"}, "encoding": {"x": {"datum": 580, "type": "quantitative", "axis": null}, "y": {"datum": "hS"}, "text": {"value": "Events"}}},
   {"mark": {"type": "text", "fontSize": 31.7, "fontWeight": "bold"}, "encoding": {"x": {"datum": 677, "type": "quantitative", "axis": null}, "y": {"datum": "hS"}, "text": {"value": "Total"}}},
   {"mark": {"type": "text", "fontSize": 31.7, "fontWeight": "bold"}, "encoding": {"x": {"datum": 1308, "type": "quantitative", "axis": null}, "y": {"datum": "hS"}, "text": {"value": "Proportion"}}},
   {"mark": {"type": "text", "fontSize": 31.7, "fontWeight": "bold"}, "encoding": {"x": {"datum": 1484, "type": "quantitative", "axis": null}, "y": {"datum": "hS"}, "text": {"value": "95%-CI"}}},
   {"mark": {"type": "text", "fontSize": 31.7, "fontWeight": "bold"}, "encoding": {"x": {"datum": 1657, "type": "quantitative", "axis": null}, "y": {"datum": "hW"}, "text": {"value": "Weight"}}},
   {"mark": {"type": "text", "fontSize": 31.7, "fontWeight": "bold"}, "encoding": {"x": {"datum": 1657, "type": "quantitative", "axis": null}, "y": {"datum": "hS"}, "text": {"value": "(common)"}}},
   {"mark": {"type": "text", "fontSize": 31.7, "fontWeight": "bold"}, "encoding": {"x": {"datum": 1797, "type": "quantitative", "axis": null}, "y": {"datum": "hW"}, "text": {"value": "Weight"}}},
   {"mark": {"type": "text", "fontSize": 31.7, "fontWeight": "bold"}, "encoding": {"x": {"datum": 1797, "type": "quantitative", "axis": null}, "y": {"datum": "hS"}, "text": {"value": "(random)"}}}
  ]}
 ]},
 {"resolve": {"scale": {"size": "independent"}}, "layer": [
  {"transform": [{"filter": "datum.t == 'c'"}], "mark": {"type": "rule", "color": "#555", "strokeWidth": 2.5, "strokeDash": [11, 6], "yOffset": -21, "y2Offset": -13}, "encoding": {"x": {"field": "prop", "type": "quantitative", "scale": {"domain": [0, 0.35], "range": [692, 1100], "nice": false, "zero": false}, "axis": {"values": [0, 0.05, 0.1, 0.15, 0.2, 0.25, 0.3, 0.35], "offset": -163, "title": null, "labelFontSize": 30}}, "y": {"datum": "Barca I et al. 2020"}, "y2": {"datum": "Common effect model"}}},
  {"transform": [{"filter": "datum.t == 'r'"}], "mark": {"type": "rule", "color": "#555", "strokeWidth": 2.5, "strokeDash": [3, 5], "yOffset": -21, "y2Offset": -13}, "encoding": {"x": {"field": "prop", "type": "quantitative"}, "y": {"datum": "Barca I et al. 2020"}, "y2": {"datum": "Random effects model"}}},
  {"transform": [{"filter": "datum.t == 's'"}], "mark": {"type": "rule", "color": "#555", "strokeWidth": 2.5}, "encoding": {"x": {"field": "lo", "type": "quantitative"}, "x2": {"field": "hi"}}},
  {"transform": [{"filter": "datum.t == 's'"}], "mark": {"type": "point", "shape": "square", "filled": true, "color": "#bdbdbd", "opacity": 1}, "encoding": {"x": {"field": "prop", "type": "quantitative"}, "size": {"field": "wc", "type": "quantitative", "scale": {"domain": [0, 0.244], "range": [0, 1100]}, "legend": null}}},
  {"transform": [{"filter": "datum.t == 's'"}], "mark": {"type": "point", "shape": "square", "filled": true, "color": "#222", "size": 22, "opacity": 1}, "encoding": {"x": {"field": "prop", "type": "quantitative"}}},
  {"transform": [{"filter": "datum.t != 's'"}, {"fold": ["lo", "prop"], "as": ["k", "v"]}], "mark": {"type": "trail", "color": "#555"}, "encoding": {"x": {"field": "v", "type": "quantitative"}, "detail": {"field": "study", "type": "nominal"}, "order": {"field": "v", "type": "quantitative"}, "size": {"field": "k", "type": "ordinal", "scale": {"type": "point", "domain": ["lo", "prop"], "range": [0, 25], "padding": 0}, "legend": null}}},
  {"transform": [{"filter": "datum.t != 's'"}, {"fold": ["prop", "hi"], "as": ["k", "v"]}], "mark": {"type": "trail", "color": "#555"}, "encoding": {"x": {"field": "v", "type": "quantitative"}, "detail": {"field": "study", "type": "nominal"}, "order": {"field": "v", "type": "quantitative"}, "size": {"field": "k", "type": "ordinal", "scale": {"type": "point", "domain": ["hi", "prop"], "range": [0, 25], "padding": 0}, "legend": null}}},
  {"transform": [{"filter": "datum.t != 's'"}, {"fold": ["lo", "prop"], "as": ["k", "v"]}], "mark": {"type": "trail", "color": "#c8c8c8"}, "encoding": {"x": {"field": "v", "type": "quantitative"}, "detail": {"field": "study", "type": "nominal"}, "order": {"field": "v", "type": "quantitative"}, "size": {"field": "k", "type": "ordinal", "scale": {"type": "point", "domain": ["lo", "prop"], "range": [0, 19], "padding": 0}, "legend": null}}},
  {"transform": [{"filter": "datum.t != 's'"}, {"fold": ["prop", "hi"], "as": ["k", "v"]}], "mark": {"type": "trail", "color": "#c8c8c8"}, "encoding": {"x": {"field": "v", "type": "quantitative"}, "detail": {"field": "study", "type": "nominal"}, "order": {"field": "v", "type": "quantitative"}, "size": {"field": "k", "type": "ordinal", "scale": {"type": "point", "domain": ["hi", "prop"], "range": [0, 19], "padding": 0}, "legend": null}}}
 ]}
]
},
{
"width": 2095, "height": 643,
"data": {"name": "rows"},
"transform": [{"filter": "datum.p == 'E'"}],
"encoding": {"y": {"field": "study", "type": "nominal", "axis": null, "scale": {"type": "point", "padding": 0, "range": [166, 536], "domain": ["hW","hS","g1","Chidambaram KS et al., 2023","Bonavolontà P et al., 2019","Fukushima M et al., 2011","g2","Common effect model","Random effects model","het"]}}},
"resolve": {"scale": {"x": "independent", "size": "independent"}},
"layer": [
 {"layer": [
  {"mark": {"type": "text", "align": "left", "fontWeight": {"expr": "datum.t == 's' ? 'normal' : 'bold'"}}, "encoding": {"x": {"datum": 71, "type": "quantitative", "axis": null, "scale": {"domain": [0, 2095], "nice": false, "zero": false}}, "text": {"field": "study"}}},
  {"transform": [{"filter": "datum.t == 's'"}], "mark": {"type": "text"}, "encoding": {"x": {"datum": 656, "type": "quantitative", "axis": null}, "text": {"field": "ev", "type": "quantitative"}}},
  {"transform": [{"filter": "datum.n != null"}], "mark": {"type": "text", "fontWeight": {"expr": "datum.t == 's' ? 'normal' : 'bold'"}}, "encoding": {"x": {"datum": 744, "type": "quantitative", "axis": null}, "text": {"field": "n", "type": "quantitative"}}},
  {"mark": {"type": "text", "fontWeight": {"expr": "datum.t == 's' ? 'normal' : 'bold'"}}, "encoding": {"x": {"datum": 1433, "type": "quantitative", "axis": null}, "text": {"field": "prop", "type": "quantitative", "format": ".2f"}}},
  {"mark": {"type": "text", "fontWeight": {"expr": "datum.t == 's' ? 'normal' : 'bold'"}}, "encoding": {"x": {"datum": 1627, "type": "quantitative", "axis": null}, "text": {"field": "ci"}}},
  {"mark": {"type": "text", "fontWeight": {"expr": "datum.t == 's' ? 'normal' : 'bold'"}}, "encoding": {"x": {"datum": 1805, "type": "quantitative", "axis": null}, "text": {"condition": {"test": "datum.wc == null", "value": "."}, "field": "wc", "type": "quantitative", "format": ".1%"}}},
  {"mark": {"type": "text", "fontWeight": {"expr": "datum.t == 's' ? 'normal' : 'bold'"}}, "encoding": {"x": {"datum": 1971, "type": "quantitative", "axis": null}, "text": {"condition": {"test": "datum.wr == null", "value": "."}, "field": "wr", "type": "quantitative", "format": ".1%"}}},
  {"transform": [{"filter": "datum.t == 'r'"}], "mark": {"type": "text", "align": "left", "fontSize": 32, "color": "#333"}, "encoding": {"x": {"datum": 71, "type": "quantitative", "axis": null}, "y": {"datum": "het"}, "text": {"field": "het"}}},
  {"data": {"values": [{}]}, "layer": [
   {"mark": {"type": "text", "align": "left", "fontSize": 74, "dy": -119, "color": "#111"}, "encoding": {"x": {"datum": 45, "type": "quantitative", "axis": null}, "y": {"datum": "hW"}, "text": {"value": "E"}}},
   {"mark": {"type": "text", "align": "left", "fontWeight": "bold"}, "encoding": {"x": {"datum": 71, "type": "quantitative", "axis": null}, "y": {"datum": "hS"}, "text": {"value": "Study"}}},
   {"mark": {"type": "text", "fontWeight": "bold"}, "encoding": {"x": {"datum": 656, "type": "quantitative", "axis": null}, "y": {"datum": "hS"}, "text": {"value": "Events"}}},
   {"mark": {"type": "text", "fontWeight": "bold"}, "encoding": {"x": {"datum": 744, "type": "quantitative", "axis": null}, "y": {"datum": "hS"}, "text": {"value": "Total"}}},
   {"mark": {"type": "text", "fontWeight": "bold"}, "encoding": {"x": {"datum": 1433, "type": "quantitative", "axis": null}, "y": {"datum": "hS"}, "text": {"value": "Proportion"}}},
   {"mark": {"type": "text", "fontWeight": "bold"}, "encoding": {"x": {"datum": 1627, "type": "quantitative", "axis": null}, "y": {"datum": "hS"}, "text": {"value": "95%-CI"}}},
   {"mark": {"type": "text", "fontWeight": "bold"}, "encoding": {"x": {"datum": 1805, "type": "quantitative", "axis": null}, "y": {"datum": "hW"}, "text": {"value": "Weight"}}},
   {"mark": {"type": "text", "fontWeight": "bold"}, "encoding": {"x": {"datum": 1805, "type": "quantitative", "axis": null}, "y": {"datum": "hS"}, "text": {"value": "(common)"}}},
   {"mark": {"type": "text", "fontWeight": "bold"}, "encoding": {"x": {"datum": 1971, "type": "quantitative", "axis": null}, "y": {"datum": "hW"}, "text": {"value": "Weight"}}},
   {"mark": {"type": "text", "fontWeight": "bold"}, "encoding": {"x": {"datum": 1971, "type": "quantitative", "axis": null}, "y": {"datum": "hS"}, "text": {"value": "(random)"}}}
  ]}
 ]},
 {"resolve": {"scale": {"size": "independent"}}, "layer": [
  {"transform": [{"filter": "datum.t == 'c'"}], "mark": {"type": "rule", "color": "#555", "strokeWidth": 2.5, "strokeDash": [11, 6], "yOffset": -23, "y2Offset": -13}, "encoding": {"x": {"field": "prop", "type": "quantitative", "scale": {"domain": [0, 0.15], "range": [757, 1220], "nice": false, "zero": false}, "axis": {"values": [0, 0.05, 0.1, 0.15], "offset": -128, "title": null}}, "y": {"datum": "Chidambaram KS et al., 2023"}, "y2": {"datum": "Common effect model"}}},
  {"transform": [{"filter": "datum.t == 'r'"}], "mark": {"type": "rule", "color": "#555", "strokeWidth": 2.5, "strokeDash": [3, 5], "yOffset": -23, "y2Offset": -13}, "encoding": {"x": {"field": "prop", "type": "quantitative"}, "y": {"datum": "Chidambaram KS et al., 2023"}, "y2": {"datum": "Random effects model"}}},
  {"transform": [{"filter": "datum.t == 's'"}], "mark": {"type": "rule", "color": "#555", "strokeWidth": 2.5}, "encoding": {"x": {"field": "lo", "type": "quantitative"}, "x2": {"field": "hi"}}},
  {"transform": [{"filter": "datum.t == 's'"}], "mark": {"type": "point", "shape": "square", "filled": true, "color": "#bdbdbd", "opacity": 1}, "encoding": {"x": {"field": "prop", "type": "quantitative"}, "size": {"field": "wc", "type": "quantitative", "scale": {"domain": [0, 0.669], "range": [0, 1300]}, "legend": null}}},
  {"transform": [{"filter": "datum.t == 's'"}], "mark": {"type": "point", "shape": "square", "filled": true, "color": "#222", "size": 22, "opacity": 1}, "encoding": {"x": {"field": "prop", "type": "quantitative"}}},
  {"transform": [{"filter": "datum.t != 's'"}, {"fold": ["lo", "prop"], "as": ["k", "v"]}], "mark": {"type": "trail", "color": "#555"}, "encoding": {"x": {"field": "v", "type": "quantitative"}, "detail": {"field": "study", "type": "nominal"}, "order": {"field": "v", "type": "quantitative"}, "size": {"field": "k", "type": "ordinal", "scale": {"type": "point", "domain": ["lo", "prop"], "range": [0, 27], "padding": 0}, "legend": null}}},
  {"transform": [{"filter": "datum.t != 's'"}, {"fold": ["prop", "hi"], "as": ["k", "v"]}], "mark": {"type": "trail", "color": "#555"}, "encoding": {"x": {"field": "v", "type": "quantitative"}, "detail": {"field": "study", "type": "nominal"}, "order": {"field": "v", "type": "quantitative"}, "size": {"field": "k", "type": "ordinal", "scale": {"type": "point", "domain": ["hi", "prop"], "range": [0, 27], "padding": 0}, "legend": null}}},
  {"transform": [{"filter": "datum.t != 's'"}, {"fold": ["lo", "prop"], "as": ["k", "v"]}], "mark": {"type": "trail", "color": "#c8c8c8"}, "encoding": {"x": {"field": "v", "type": "quantitative"}, "detail": {"field": "study", "type": "nominal"}, "order": {"field": "v", "type": "quantitative"}, "size": {"field": "k", "type": "ordinal", "scale": {"type": "point", "domain": ["lo", "prop"], "range": [0, 21], "padding": 0}, "legend": null}}},
  {"transform": [{"filter": "datum.t != 's'"}, {"fold": ["prop", "hi"], "as": ["k", "v"]}], "mark": {"type": "trail", "color": "#c8c8c8"}, "encoding": {"x": {"field": "v", "type": "quantitative"}, "detail": {"field": "study", "type": "nominal"}, "order": {"field": "v", "type": "quantitative"}, "size": {"field": "k", "type": "ordinal", "scale": {"type": "point", "domain": ["hi", "prop"], "range": [0, 21], "padding": 0}, "legend": null}}}
 ]}
]
},
{
"width": 1885, "height": 643,
"data": {"name": "rows"},
"transform": [{"filter": "datum.p == 'F'"}],
"encoding": {"y": {"field": "study", "type": "nominal", "axis": null, "scale": {"type": "point", "padding": 0, "range": [161, 495], "domain": ["hW","hS","g1","Bonavolontà P et al., 2019","Infante-Cossio P et al., 2018","Guntinas O et al., 2004","g2","Common effect model","Random effects model","het"]}}},
"resolve": {"scale": {"x": "independent", "size": "independent"}},
"layer": [
 {"layer": [
  {"mark": {"type": "text", "fontSize": 31.7, "align": "left", "fontWeight": {"expr": "datum.t == 's' ? 'normal' : 'bold'"}}, "encoding": {"x": {"datum": 75, "type": "quantitative", "axis": null, "scale": {"domain": [0, 1885], "nice": false, "zero": false}}, "text": {"field": "study"}}},
  {"transform": [{"filter": "datum.t == 's'"}], "mark": {"type": "text", "fontSize": 31.7}, "encoding": {"x": {"datum": 583, "type": "quantitative", "axis": null}, "text": {"field": "ev", "type": "quantitative"}}},
  {"transform": [{"filter": "datum.n != null"}], "mark": {"type": "text", "fontSize": 31.7, "fontWeight": {"expr": "datum.t == 's' ? 'normal' : 'bold'"}}, "encoding": {"x": {"datum": 673, "type": "quantitative", "axis": null}, "text": {"field": "n", "type": "quantitative"}}},
  {"mark": {"type": "text", "fontSize": 31.7, "fontWeight": {"expr": "datum.t == 's' ? 'normal' : 'bold'"}}, "encoding": {"x": {"datum": 1302, "type": "quantitative", "axis": null}, "text": {"field": "prop", "type": "quantitative", "format": ".2f"}}},
  {"mark": {"type": "text", "fontSize": 31.7, "fontWeight": {"expr": "datum.t == 's' ? 'normal' : 'bold'"}}, "encoding": {"x": {"datum": 1481, "type": "quantitative", "axis": null}, "text": {"field": "ci"}}},
  {"mark": {"type": "text", "fontSize": 31.7, "fontWeight": {"expr": "datum.t == 's' ? 'normal' : 'bold'"}}, "encoding": {"x": {"datum": 1652, "type": "quantitative", "axis": null}, "text": {"condition": {"test": "datum.wc == null", "value": "."}, "field": "wc", "type": "quantitative", "format": ".1%"}}},
  {"mark": {"type": "text", "fontSize": 31.7, "fontWeight": {"expr": "datum.t == 's' ? 'normal' : 'bold'"}}, "encoding": {"x": {"datum": 1789, "type": "quantitative", "axis": null}, "text": {"condition": {"test": "datum.wr == null", "value": "."}, "field": "wr", "type": "quantitative", "format": ".1%"}}},
  {"transform": [{"filter": "datum.t == 'r'"}], "mark": {"type": "text", "align": "left", "fontSize": 29.5, "color": "#333"}, "encoding": {"x": {"datum": 75, "type": "quantitative", "axis": null}, "y": {"datum": "het"}, "text": {"field": "het"}}},
  {"data": {"values": [{}]}, "layer": [
   {"mark": {"type": "text", "align": "left", "fontSize": 74, "dy": -114, "color": "#111"}, "encoding": {"x": {"datum": 44, "type": "quantitative", "axis": null}, "y": {"datum": "hW"}, "text": {"value": "F"}}},
   {"mark": {"type": "text", "fontSize": 31.7, "align": "left", "fontWeight": "bold"}, "encoding": {"x": {"datum": 75, "type": "quantitative", "axis": null}, "y": {"datum": "hS"}, "text": {"value": "Study"}}},
   {"mark": {"type": "text", "fontSize": 31.7, "fontWeight": "bold"}, "encoding": {"x": {"datum": 583, "type": "quantitative", "axis": null}, "y": {"datum": "hS"}, "text": {"value": "Events"}}},
   {"mark": {"type": "text", "fontSize": 31.7, "fontWeight": "bold"}, "encoding": {"x": {"datum": 673, "type": "quantitative", "axis": null}, "y": {"datum": "hS"}, "text": {"value": "Total"}}},
   {"mark": {"type": "text", "fontSize": 31.7, "fontWeight": "bold"}, "encoding": {"x": {"datum": 1302, "type": "quantitative", "axis": null}, "y": {"datum": "hS"}, "text": {"value": "Proportion"}}},
   {"mark": {"type": "text", "fontSize": 31.7, "fontWeight": "bold"}, "encoding": {"x": {"datum": 1481, "type": "quantitative", "axis": null}, "y": {"datum": "hS"}, "text": {"value": "95%-CI"}}},
   {"mark": {"type": "text", "fontSize": 31.7, "fontWeight": "bold"}, "encoding": {"x": {"datum": 1652, "type": "quantitative", "axis": null}, "y": {"datum": "hW"}, "text": {"value": "Weight"}}},
   {"mark": {"type": "text", "fontSize": 31.7, "fontWeight": "bold"}, "encoding": {"x": {"datum": 1652, "type": "quantitative", "axis": null}, "y": {"datum": "hS"}, "text": {"value": "(common)"}}},
   {"mark": {"type": "text", "fontSize": 31.7, "fontWeight": "bold"}, "encoding": {"x": {"datum": 1789, "type": "quantitative", "axis": null}, "y": {"datum": "hW"}, "text": {"value": "Weight"}}},
   {"mark": {"type": "text", "fontSize": 31.7, "fontWeight": "bold"}, "encoding": {"x": {"datum": 1789, "type": "quantitative", "axis": null}, "y": {"datum": "hS"}, "text": {"value": "(random)"}}}
  ]}
 ]},
 {"resolve": {"scale": {"size": "independent"}}, "layer": [
  {"transform": [{"filter": "datum.t == 'c'"}], "mark": {"type": "rule", "color": "#555", "strokeWidth": 2.5, "strokeDash": [11, 6], "yOffset": -20, "y2Offset": -13}, "encoding": {"x": {"field": "prop", "type": "quantitative", "scale": {"domain": [0, 0.12], "range": [689, 1106], "nice": false, "zero": false}, "axis": {"values": [0, 0.02, 0.04, 0.06, 0.08, 0.1, 0.12], "offset": -168, "title": null, "labelFontSize": 30}}, "y": {"datum": "Bonavolontà P et al., 2019"}, "y2": {"datum": "Common effect model"}}},
  {"transform": [{"filter": "datum.t == 'r'"}], "mark": {"type": "rule", "color": "#555", "strokeWidth": 2.5, "strokeDash": [3, 5], "yOffset": -20, "y2Offset": -13}, "encoding": {"x": {"field": "prop", "type": "quantitative"}, "y": {"datum": "Bonavolontà P et al., 2019"}, "y2": {"datum": "Random effects model"}}},
  {"transform": [{"filter": "datum.t == 's'"}], "mark": {"type": "rule", "color": "#555", "strokeWidth": 2.5}, "encoding": {"x": {"field": "lo", "type": "quantitative"}, "x2": {"field": "hi"}}},
  {"transform": [{"filter": "datum.t == 's'"}], "mark": {"type": "point", "shape": "square", "filled": true, "color": "#bdbdbd", "opacity": 1}, "encoding": {"x": {"field": "prop", "type": "quantitative"}, "size": {"field": "wc", "type": "quantitative", "scale": {"domain": [0, 0.579], "range": [0, 1100]}, "legend": null}}},
  {"transform": [{"filter": "datum.t == 's'"}], "mark": {"type": "point", "shape": "square", "filled": true, "color": "#222", "size": 22, "opacity": 1}, "encoding": {"x": {"field": "prop", "type": "quantitative"}}},
  {"transform": [{"filter": "datum.t != 's'"}, {"fold": ["lo", "prop"], "as": ["k", "v"]}], "mark": {"type": "trail", "color": "#555"}, "encoding": {"x": {"field": "v", "type": "quantitative"}, "detail": {"field": "study", "type": "nominal"}, "order": {"field": "v", "type": "quantitative"}, "size": {"field": "k", "type": "ordinal", "scale": {"type": "point", "domain": ["lo", "prop"], "range": [0, 26], "padding": 0}, "legend": null}}},
  {"transform": [{"filter": "datum.t != 's'"}, {"fold": ["prop", "hi"], "as": ["k", "v"]}], "mark": {"type": "trail", "color": "#555"}, "encoding": {"x": {"field": "v", "type": "quantitative"}, "detail": {"field": "study", "type": "nominal"}, "order": {"field": "v", "type": "quantitative"}, "size": {"field": "k", "type": "ordinal", "scale": {"type": "point", "domain": ["hi", "prop"], "range": [0, 26], "padding": 0}, "legend": null}}},
  {"transform": [{"filter": "datum.t != 's'"}, {"fold": ["lo", "prop"], "as": ["k", "v"]}], "mark": {"type": "trail", "color": "#c8c8c8"}, "encoding": {"x": {"field": "v", "type": "quantitative"}, "detail": {"field": "study", "type": "nominal"}, "order": {"field": "v", "type": "quantitative"}, "size": {"field": "k", "type": "ordinal", "scale": {"type": "point", "domain": ["lo", "prop"], "range": [0, 20], "padding": 0}, "legend": null}}},
  {"transform": [{"filter": "datum.t != 's'"}, {"fold": ["prop", "hi"], "as": ["k", "v"]}], "mark": {"type": "trail", "color": "#c8c8c8"}, "encoding": {"x": {"field": "v", "type": "quantitative"}, "detail": {"field": "study", "type": "nominal"}, "order": {"field": "v", "type": "quantitative"}, "size": {"field": "k", "type": "ordinal", "scale": {"type": "point", "domain": ["hi", "prop"], "range": [0, 20], "padding": 0}, "legend": null}}}
 ]}
]
},
{
"width": 2095, "height": 627,
"data": {"name": "rows"},
"transform": [{"filter": "datum.p == 'G'"}],
"encoding": {"y": {"field": "study", "type": "nominal", "axis": null, "scale": {"type": "point", "padding": 0, "range": [168, 528], "domain": ["hW","hS","g1","Chidambaram KS et al., 2023","Bonavolontà P et al., 2019","Fukushima M et al., 2011","g2","Common effect model","Random effects model","het"]}}},
"resolve": {"scale": {"x": "independent", "size": "independent"}},
"layer": [
 {"layer": [
  {"mark": {"type": "text", "align": "left", "fontWeight": {"expr": "datum.t == 's' ? 'normal' : 'bold'"}}, "encoding": {"x": {"datum": 71, "type": "quantitative", "axis": null, "scale": {"domain": [0, 2095], "nice": false, "zero": false}}, "text": {"field": "study"}}},
  {"transform": [{"filter": "datum.t == 's'"}], "mark": {"type": "text"}, "encoding": {"x": {"datum": 656, "type": "quantitative", "axis": null}, "text": {"field": "ev", "type": "quantitative"}}},
  {"transform": [{"filter": "datum.n != null"}], "mark": {"type": "text", "fontWeight": {"expr": "datum.t == 's' ? 'normal' : 'bold'"}}, "encoding": {"x": {"datum": 749, "type": "quantitative", "axis": null}, "text": {"field": "n", "type": "quantitative"}}},
  {"mark": {"type": "text", "fontWeight": {"expr": "datum.t == 's' ? 'normal' : 'bold'"}}, "encoding": {"x": {"datum": 1451, "type": "quantitative", "axis": null}, "text": {"field": "prop", "type": "quantitative", "format": ".2f"}}},
  {"mark": {"type": "text", "fontWeight": {"expr": "datum.t == 's' ? 'normal' : 'bold'"}}, "encoding": {"x": {"datum": 1645, "type": "quantitative", "axis": null}, "text": {"field": "ci"}}},
  {"mark": {"type": "text", "fontWeight": {"expr": "datum.t == 's' ? 'normal' : 'bold'"}}, "encoding": {"x": {"datum": 1823, "type": "quantitative", "axis": null}, "text": {"condition": {"test": "datum.wc == null", "value": "."}, "field": "wc", "type": "quantitative", "format": ".1%"}}},
  {"mark": {"type": "text", "fontWeight": {"expr": "datum.t == 's' ? 'normal' : 'bold'"}}, "encoding": {"x": {"datum": 1997, "type": "quantitative", "axis": null}, "text": {"condition": {"test": "datum.wr == null", "value": "."}, "field": "wr", "type": "quantitative", "format": ".1%"}}},
  {"transform": [{"filter": "datum.t == 'r'"}], "mark": {"type": "text", "align": "left", "fontSize": 32, "color": "#333"}, "encoding": {"x": {"datum": 71, "type": "quantitative", "axis": null}, "y": {"datum": "het"}, "text": {"field": "het"}}},
  {"data": {"values": [{}]}, "layer": [
   {"mark": {"type": "text", "align": "left", "fontSize": 74, "dy": -119, "color": "#111"}, "encoding": {"x": {"datum": 45, "type": "quantitative", "axis": null}, "y": {"datum": "hW"}, "text": {"value": "G"}}},
   {"mark": {"type": "text", "align": "left", "fontWeight": "bold"}, "encoding": {"x": {"datum": 71, "type": "quantitative", "axis": null}, "y": {"datum": "hS"}, "text": {"value": "Study"}}},
   {"mark": {"type": "text", "fontWeight": "bold"}, "encoding": {"x": {"datum": 656, "type": "quantitative", "axis": null}, "y": {"datum": "hS"}, "text": {"value": "Events"}}},
   {"mark": {"type": "text", "fontWeight": "bold"}, "encoding": {"x": {"datum": 749, "type": "quantitative", "axis": null}, "y": {"datum": "hS"}, "text": {"value": "Total"}}},
   {"mark": {"type": "text", "fontWeight": "bold"}, "encoding": {"x": {"datum": 1451, "type": "quantitative", "axis": null}, "y": {"datum": "hS"}, "text": {"value": "Proportion"}}},
   {"mark": {"type": "text", "fontWeight": "bold"}, "encoding": {"x": {"datum": 1645, "type": "quantitative", "axis": null}, "y": {"datum": "hS"}, "text": {"value": "95%-CI"}}},
   {"mark": {"type": "text", "fontWeight": "bold"}, "encoding": {"x": {"datum": 1823, "type": "quantitative", "axis": null}, "y": {"datum": "hW"}, "text": {"value": "Weight"}}},
   {"mark": {"type": "text", "fontWeight": "bold"}, "encoding": {"x": {"datum": 1823, "type": "quantitative", "axis": null}, "y": {"datum": "hS"}, "text": {"value": "(common)"}}},
   {"mark": {"type": "text", "fontWeight": "bold"}, "encoding": {"x": {"datum": 1997, "type": "quantitative", "axis": null}, "y": {"datum": "hW"}, "text": {"value": "Weight"}}},
   {"mark": {"type": "text", "fontWeight": "bold"}, "encoding": {"x": {"datum": 1997, "type": "quantitative", "axis": null}, "y": {"datum": "hS"}, "text": {"value": "(random)"}}}
  ]}
 ]},
 {"resolve": {"scale": {"size": "independent"}}, "layer": [
  {"transform": [{"filter": "datum.t == 'c'"}], "mark": {"type": "rule", "color": "#555", "strokeWidth": 2.5, "strokeDash": [11, 6], "yOffset": -22, "y2Offset": -13}, "encoding": {"x": {"field": "prop", "type": "quantitative", "scale": {"domain": [0, 0.25], "range": [767, 1200], "nice": false, "zero": false}, "axis": {"values": [0, 0.05, 0.1, 0.15, 0.2, 0.25], "offset": -121, "title": null}}, "y": {"datum": "Chidambaram KS et al., 2023"}, "y2": {"datum": "Common effect model"}}},
  {"transform": [{"filter": "datum.t == 'r'"}], "mark": {"type": "rule", "color": "#555", "strokeWidth": 2.5, "strokeDash": [3, 5], "yOffset": -22, "y2Offset": -13}, "encoding": {"x": {"field": "prop", "type": "quantitative"}, "y": {"datum": "Chidambaram KS et al., 2023"}, "y2": {"datum": "Random effects model"}}},
  {"transform": [{"filter": "datum.t == 's'"}], "mark": {"type": "rule", "color": "#555", "strokeWidth": 2.5}, "encoding": {"x": {"field": "lo", "type": "quantitative"}, "x2": {"field": "hi"}}},
  {"transform": [{"filter": "datum.t == 's'"}], "mark": {"type": "point", "shape": "square", "filled": true, "color": "#bdbdbd", "opacity": 1}, "encoding": {"x": {"field": "prop", "type": "quantitative"}, "size": {"field": "wc", "type": "quantitative", "scale": {"domain": [0, 0.775], "range": [0, 1300]}, "legend": null}}},
  {"transform": [{"filter": "datum.t == 's'"}], "mark": {"type": "point", "shape": "square", "filled": true, "color": "#222", "size": 22, "opacity": 1}, "encoding": {"x": {"field": "prop", "type": "quantitative"}}},
  {"transform": [{"filter": "datum.t != 's'"}, {"fold": ["lo", "prop"], "as": ["k", "v"]}], "mark": {"type": "trail", "color": "#555"}, "encoding": {"x": {"field": "v", "type": "quantitative"}, "detail": {"field": "study", "type": "nominal"}, "order": {"field": "v", "type": "quantitative"}, "size": {"field": "k", "type": "ordinal", "scale": {"type": "point", "domain": ["lo", "prop"], "range": [0, 27], "padding": 0}, "legend": null}}},
  {"transform": [{"filter": "datum.t != 's'"}, {"fold": ["prop", "hi"], "as": ["k", "v"]}], "mark": {"type": "trail", "color": "#555"}, "encoding": {"x": {"field": "v", "type": "quantitative"}, "detail": {"field": "study", "type": "nominal"}, "order": {"field": "v", "type": "quantitative"}, "size": {"field": "k", "type": "ordinal", "scale": {"type": "point", "domain": ["hi", "prop"], "range": [0, 27], "padding": 0}, "legend": null}}},
  {"transform": [{"filter": "datum.t != 's'"}, {"fold": ["lo", "prop"], "as": ["k", "v"]}], "mark": {"type": "trail", "color": "#c8c8c8"}, "encoding": {"x": {"field": "v", "type": "quantitative"}, "detail": {"field": "study", "type": "nominal"}, "order": {"field": "v", "type": "quantitative"}, "size": {"field": "k", "type": "ordinal", "scale": {"type": "point", "domain": ["lo", "prop"], "range": [0, 21], "padding": 0}, "legend": null}}},
  {"transform": [{"filter": "datum.t != 's'"}, {"fold": ["prop", "hi"], "as": ["k", "v"]}], "mark": {"type": "trail", "color": "#c8c8c8"}, "encoding": {"x": {"field": "v", "type": "quantitative"}, "detail": {"field": "study", "type": "nominal"}, "order": {"field": "v", "type": "quantitative"}, "size": {"field": "k", "type": "ordinal", "scale": {"type": "point", "domain": ["hi", "prop"], "range": [0, 21], "padding": 0}, "legend": null}}}
 ]}
]
},
{
"width": 1885, "height": 627,
"data": {"name": "rows"},
"transform": [{"filter": "datum.p == 'H'"}],
"encoding": {"y": {"field": "study", "type": "nominal", "axis": null, "scale": {"type": "point", "padding": 0, "range": [108, 445], "domain": ["hW","hS","g1","Bonavolontà P et al., 2019","Infante-Cossio P et al., 2018","Guntinas O et al., 2004","g2","Common effect model","Random effects model","het"]}}},
"resolve": {"scale": {"x": "independent", "size": "independent"}},
"layer": [
 {"layer": [
  {"mark": {"type": "text", "fontSize": 31.7, "align": "left", "fontWeight": {"expr": "datum.t == 's' ? 'normal' : 'bold'"}}, "encoding": {"x": {"datum": 70, "type": "quantitative", "axis": null, "scale": {"domain": [0, 1885], "nice": false, "zero": false}}, "text": {"field": "study"}}},
  {"transform": [{"filter": "datum.t == 's'"}], "mark": {"type": "text", "fontSize": 31.7}, "encoding": {"x": {"datum": 580, "type": "quantitative", "axis": null}, "text": {"field": "ev", "type": "quantitative"}}},
  {"transform": [{"filter": "datum.n != null"}], "mark": {"type": "text", "fontSize": 31.7, "fontWeight": {"expr": "datum.t == 's' ? 'normal' : 'bold'"}}, "encoding": {"x": {"datum": 673, "type": "quantitative", "axis": null}, "text": {"field": "n", "type": "quantitative"}}},
  {"mark": {"type": "text", "fontSize": 31.7, "fontWeight": {"expr": "datum.t == 's' ? 'normal' : 'bold'"}}, "encoding": {"x": {"datum": 1302, "type": "quantitative", "axis": null}, "text": {"field": "prop", "type": "quantitative", "format": ".2f"}}},
  {"mark": {"type": "text", "fontSize": 31.7, "fontWeight": {"expr": "datum.t == 's' ? 'normal' : 'bold'"}}, "encoding": {"x": {"datum": 1481, "type": "quantitative", "axis": null}, "text": {"field": "ci"}}},
  {"mark": {"type": "text", "fontSize": 31.7, "fontWeight": {"expr": "datum.t == 's' ? 'normal' : 'bold'"}}, "encoding": {"x": {"datum": 1652, "type": "quantitative", "axis": null}, "text": {"condition": {"test": "datum.wc == null", "value": "."}, "field": "wc", "type": "quantitative", "format": ".1%"}}},
  {"mark": {"type": "text", "fontSize": 31.7, "fontWeight": {"expr": "datum.t == 's' ? 'normal' : 'bold'"}}, "encoding": {"x": {"datum": 1792, "type": "quantitative", "axis": null}, "text": {"condition": {"test": "datum.wr == null", "value": "."}, "field": "wr", "type": "quantitative", "format": ".1%"}}},
  {"transform": [{"filter": "datum.t == 'r'"}], "mark": {"type": "text", "align": "left", "fontSize": 29.5, "color": "#333"}, "encoding": {"x": {"datum": 70, "type": "quantitative", "axis": null}, "y": {"datum": "het"}, "text": {"field": "het"}}},
  {"data": {"values": [{}]}, "layer": [
   {"mark": {"type": "text", "align": "left", "fontSize": 74, "dy": -59, "color": "#111"}, "encoding": {"x": {"datum": 44, "type": "quantitative", "axis": null}, "y": {"datum": "hW"}, "text": {"value": "H"}}},
   {"mark": {"type": "text", "fontSize": 31.7, "align": "left", "fontWeight": "bold"}, "encoding": {"x": {"datum": 70, "type": "quantitative", "axis": null}, "y": {"datum": "hS"}, "text": {"value": "Study"}}},
   {"mark": {"type": "text", "fontSize": 31.7, "fontWeight": "bold"}, "encoding": {"x": {"datum": 580, "type": "quantitative", "axis": null}, "y": {"datum": "hS"}, "text": {"value": "Events"}}},
   {"mark": {"type": "text", "fontSize": 31.7, "fontWeight": "bold"}, "encoding": {"x": {"datum": 673, "type": "quantitative", "axis": null}, "y": {"datum": "hS"}, "text": {"value": "Total"}}},
   {"mark": {"type": "text", "fontSize": 31.7, "fontWeight": "bold"}, "encoding": {"x": {"datum": 1302, "type": "quantitative", "axis": null}, "y": {"datum": "hS"}, "text": {"value": "Proportion"}}},
   {"mark": {"type": "text", "fontSize": 31.7, "fontWeight": "bold"}, "encoding": {"x": {"datum": 1481, "type": "quantitative", "axis": null}, "y": {"datum": "hS"}, "text": {"value": "95%-CI"}}},
   {"mark": {"type": "text", "fontSize": 31.7, "fontWeight": "bold"}, "encoding": {"x": {"datum": 1652, "type": "quantitative", "axis": null}, "y": {"datum": "hW"}, "text": {"value": "Weight"}}},
   {"mark": {"type": "text", "fontSize": 31.7, "fontWeight": "bold"}, "encoding": {"x": {"datum": 1652, "type": "quantitative", "axis": null}, "y": {"datum": "hS"}, "text": {"value": "(common)"}}},
   {"mark": {"type": "text", "fontSize": 31.7, "fontWeight": "bold"}, "encoding": {"x": {"datum": 1792, "type": "quantitative", "axis": null}, "y": {"datum": "hW"}, "text": {"value": "Weight"}}},
   {"mark": {"type": "text", "fontSize": 31.7, "fontWeight": "bold"}, "encoding": {"x": {"datum": 1792, "type": "quantitative", "axis": null}, "y": {"datum": "hS"}, "text": {"value": "(random)"}}}
  ]}
 ]},
 {"resolve": {"scale": {"size": "independent"}}, "layer": [
  {"transform": [{"filter": "datum.t == 'c'"}], "mark": {"type": "rule", "color": "#555", "strokeWidth": 2.5, "strokeDash": [11, 6], "yOffset": -21, "y2Offset": -13}, "encoding": {"x": {"field": "prop", "type": "quantitative", "scale": {"domain": [0.05, 0.2], "range": [711, 1079], "nice": false, "zero": false}, "axis": {"values": [0.05, 0.1, 0.15, 0.2], "offset": -200, "title": null, "labelFontSize": 30}}, "y": {"datum": "Bonavolontà P et al., 2019"}, "y2": {"datum": "Common effect model"}}},
  {"transform": [{"filter": "datum.t == 'r'"}], "mark": {"type": "rule", "color": "#555", "strokeWidth": 2.5, "strokeDash": [3, 5], "yOffset": -21, "y2Offset": -13}, "encoding": {"x": {"field": "prop", "type": "quantitative"}, "y": {"datum": "Bonavolontà P et al., 2019"}, "y2": {"datum": "Random effects model"}}},
  {"transform": [{"filter": "datum.t == 's'"}], "mark": {"type": "rule", "color": "#555", "strokeWidth": 2.5}, "encoding": {"x": {"field": "lo", "type": "quantitative"}, "x2": {"field": "hi"}}},
  {"transform": [{"filter": "datum.t == 's'"}], "mark": {"type": "point", "shape": "square", "filled": true, "color": "#bdbdbd", "opacity": 1}, "encoding": {"x": {"field": "prop", "type": "quantitative"}, "size": {"field": "wc", "type": "quantitative", "scale": {"domain": [0, 0.485], "range": [0, 1100]}, "legend": null}}},
  {"transform": [{"filter": "datum.t == 's'"}], "mark": {"type": "point", "shape": "square", "filled": true, "color": "#222", "size": 22, "opacity": 1}, "encoding": {"x": {"field": "prop", "type": "quantitative"}}},
  {"transform": [{"filter": "datum.t != 's'"}, {"fold": ["lo", "prop"], "as": ["k", "v"]}], "mark": {"type": "trail", "color": "#555"}, "encoding": {"x": {"field": "v", "type": "quantitative"}, "detail": {"field": "study", "type": "nominal"}, "order": {"field": "v", "type": "quantitative"}, "size": {"field": "k", "type": "ordinal", "scale": {"type": "point", "domain": ["lo", "prop"], "range": [0, 26], "padding": 0}, "legend": null}}},
  {"transform": [{"filter": "datum.t != 's'"}, {"fold": ["prop", "hi"], "as": ["k", "v"]}], "mark": {"type": "trail", "color": "#555"}, "encoding": {"x": {"field": "v", "type": "quantitative"}, "detail": {"field": "study", "type": "nominal"}, "order": {"field": "v", "type": "quantitative"}, "size": {"field": "k", "type": "ordinal", "scale": {"type": "point", "domain": ["hi", "prop"], "range": [0, 26], "padding": 0}, "legend": null}}},
  {"transform": [{"filter": "datum.t != 's'"}, {"fold": ["lo", "prop"], "as": ["k", "v"]}], "mark": {"type": "trail", "color": "#c8c8c8"}, "encoding": {"x": {"field": "v", "type": "quantitative"}, "detail": {"field": "study", "type": "nominal"}, "order": {"field": "v", "type": "quantitative"}, "size": {"field": "k", "type": "ordinal", "scale": {"type": "point", "domain": ["lo", "prop"], "range": [0, 20], "padding": 0}, "legend": null}}},
  {"transform": [{"filter": "datum.t != 's'"}, {"fold": ["prop", "hi"], "as": ["k", "v"]}], "mark": {"type": "trail", "color": "#c8c8c8"}, "encoding": {"x": {"field": "v", "type": "quantitative"}, "detail": {"field": "study", "type": "nominal"}, "order": {"field": "v", "type": "quantitative"}, "size": {"field": "k", "type": "ordinal", "scale": {"type": "point", "domain": ["hi", "prop"], "range": [0, 20], "padding": 0}, "legend": null}}}
 ]}
]
}
]
}
